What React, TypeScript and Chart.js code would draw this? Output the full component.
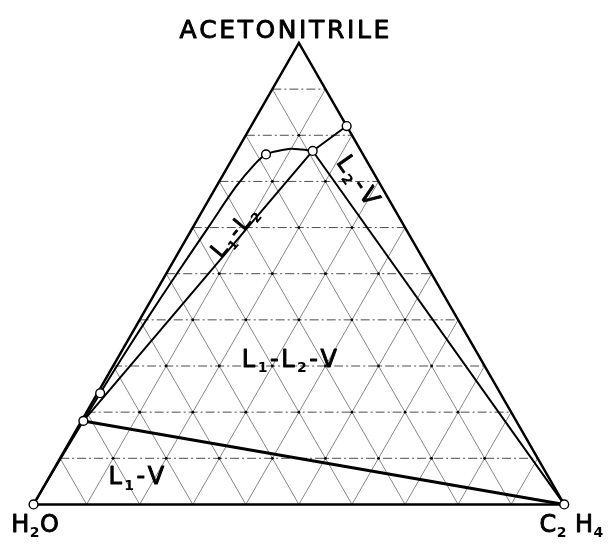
import { useEffect, useRef } from "react";
import { Chart, registerables } from "chart.js";

Chart.register(...registerables);

// Compositions are given as mole fractions: [acetonitrile, ethylene]; water is the remainder.
const GRID_STEPS = [0.1, 0.2, 0.3, 0.4, 0.5, 0.6, 0.7, 0.8, 0.9];

// L1 (water-rich) branch of the two-liquid envelope, from pure water up and over to L2
const BINODAL_ACN = [0, 0.1, 0.181, 0.241, 0.32, 0.4, 0.5, 0.6, 0.688, 0.737, 0.7585, 0.766, 0.771, 0.769, 0.766];
const BINODAL_C2H4 = [0, 0.0015, 0.0034, 0.005, 0.008, 0.0126, 0.02, 0.029, 0.037, 0.048, 0.0588, 0.077, 0.099, 0.121, 0.143];

// L2 saturation line from the L2 corner to the acetonitrile–ethylene side
const L2_BRANCH_ACN = [0.766, 0.82];
const L2_BRANCH_C2H4 = [0.143, 0.18];

// Three-phase triangle corners: L1, L2, V
const THREE_PHASE_ACN = [0.181, 0.766, 0];
const THREE_PHASE_C2H4 = [0.0034, 0.143, 1];

// Measured points shown as open circles
const POINT_ACN = [0, 0, 0.82, 0.766, 0.7585, 0.241, 0.181];
const POINT_C2H4 = [0, 1, 0.18, 0.143, 0.0588, 0.005, 0.0034];

const COMPONENTS = ["ACETONITRILE", "H_2O", "C_2 H_4"];
const REGION_LABELS = ["L_1-L_2-V", "L_1-V", "L_1-L_2", "L_2-V"];

const SQ = Math.sqrt(3) / 2;
const toXY = (a: number, c: number) => ({ x: c + a / 2, y: a * SQ });
const GAP = { x: NaN, y: NaN };

const X_MIN = -28.3 / 541;
const X_MAX = (608 - 28.3) / 541;
const Y_UNIT = 471.5 / SQ;
const Y_MIN = -(544 - 509.5) / Y_UNIT;
const Y_MAX = 509.5 / Y_UNIT;

function segments(pairs: [number, number, number, number][]) {
  const pts: { x: number; y: number }[] = [];
  pairs.forEach(([a1, c1, a2, c2]) => {
    pts.push(toXY(a1, c1), toXY(a2, c2), GAP);
  });
  return pts;
}

function zipPts(acn: number[], c2h4: number[]) {
  return acn.map((a, i) => toXY(a, c2h4[i]));
}

type Part = { t: string; sub: boolean };
function parse(s: string): Part[] {
  const parts: Part[] = [];
  for (let i = 0; i < s.length; i++) {
    if (s[i] === "_" && i + 1 < s.length) {
      parts.push({ t: s[i + 1], sub: true });
      i++;
    } else parts.push({ t: s[i], sub: false });
  }
  return parts;
}

// Draws text with "_x" subscripts, centred on (cx, cy), optionally rotated.
function drawRich(
  ctx: CanvasRenderingContext2D,
  text: string,
  cx: number,
  cy: number,
  size: number,
  spacing: number,
  angle = 0
) {
  const parts = parse(text);
  const family = '"DejaVu Sans", sans-serif';
  const fontOf = (p: Part) => (p.sub ? `bold ${Math.round(size * 0.6)}px ${family}` : `${size}px ${family}`);
  const widths = parts.map((p) => {
    ctx.font = fontOf(p);
    return ctx.measureText(p.t).width;
  });
  const total = widths.reduce((s, w) => s + w, 0) + spacing * (parts.length - 1);
  ctx.save();
  ctx.translate(cx, cy);
  ctx.rotate((angle * Math.PI) / 180);
  ctx.fillStyle = "#000";
  ctx.strokeStyle = "#000";
  ctx.lineWidth = 0.9;
  ctx.lineJoin = "round";
  ctx.textBaseline = "alphabetic";
  ctx.textAlign = "left";
  const base = size * 0.365;
  let x = -total / 2;
  parts.forEach((p, i) => {
    ctx.font = fontOf(p);
    const y = p.sub ? base + size * 0.22 : base;
    ctx.fillText(p.t, x, y);
    if (!p.sub) ctx.strokeText(p.t, x, y);
    x += widths[i] + spacing;
  });
  ctx.restore();
}

const labelPlugin = {
  id: "ternaryLabels",
  afterDatasetsDraw(chart: Chart) {
    const ctx = chart.ctx;
    const sx = chart.scales.x;
    const sy = chart.scales.y;
    const px = (x: number) => sx.getPixelForValue(x);
    const py = (y: number) => sy.getPixelForValue(y);
    // component names at the corners
    drawRich(ctx, COMPONENTS[0], px(0.4726), py(0.892), 25, 2.6);
    drawRich(ctx, COMPONENTS[1], px(0.003), py(-0.0345), 24, 0.5);
    drawRich(ctx, COMPONENTS[2], px(1.0135), py(-0.0345), 24, 0.5);
    // phase regions
    drawRich(ctx, REGION_LABELS[0], px(0.482), py(0.2746), 24, 2.5);
    drawRich(ctx, REGION_LABELS[1], px(0.1935), py(0.0542), 24, 2.5);
    drawRich(ctx, REGION_LABELS[2], px(0.3772), py(0.5128), 22, 2.2, -50);
    drawRich(ctx, REGION_LABELS[3], px(0.6131), py(0.609), 24, 2.5, 55);
  },
};

export default function App() {
  const ref = useRef<HTMLCanvasElement | null>(null);

  useEffect(() => {
    if (!ref.current) return;

    const horiz = segments(GRID_STEPS.map((a) => [a, 0, a, 1 - a] as [number, number, number, number]));
    const diag = segments([
      ...GRID_STEPS.map((c) => [0, c, 1 - c, c] as [number, number, number, number]),
      ...GRID_STEPS.map((w) => [0, 1 - w, 1 - w, 0] as [number, number, number, number]),
    ]);
    const dots: { x: number; y: number }[] = [];
    GRID_STEPS.forEach((a) =>
      GRID_STEPS.forEach((c) => {
        if (a + c < 0.999) dots.push(toXY(a, c));
      })
    );
    const frame = [toXY(0, 0), toXY(0, 1), toXY(1, 0), toXY(0, 0)];
    const tri = zipPts(THREE_PHASE_ACN, THREE_PHASE_C2H4);

    const line = (data: { x: number; y: number }[], width: number, order: number, extra = {}) => ({
      data,
      showLine: true,
      borderColor: "#000",
      borderWidth: width,
      pointRadius: 0,
      fill: false,
      spanGaps: false,
      order,
      ...extra,
    });

    const chart = new Chart(ref.current, {
      type: "scatter",
      data: {
        datasets: [
          {
            data: zipPts(POINT_ACN, POINT_C2H4),
            showLine: false,
            pointRadius: 4.4,
            pointBackgroundColor: "#fff",
            pointBorderColor: "#000",
            pointBorderWidth: 1.4,
            order: 0,
          },
          line(zipPts(BINODAL_ACN, BINODAL_C2H4), 2, 1, { tension: 0.35 }),
          line(zipPts(L2_BRANCH_ACN, L2_BRANCH_C2H4), 2, 1),
          line([tri[0], tri[1]], 2, 1),
          line([tri[1], tri[2]], 2, 1),
          line([tri[0], tri[2]], 3, 1),
          line(frame, 2.5, 2, { borderJoinStyle: "miter" }),
          {
            data: dots,
            showLine: false,
            pointRadius: 1.4,
            pointBackgroundColor: "#000",
            pointBorderWidth: 0,
            order: 3,
          },
          line(horiz, 1, 4, { borderDash: [9, 3, 2, 3], borderColor: "rgba(0,0,0,0.7)" }),
          line(diag, 0.8, 5, { borderColor: "rgba(0,0,0,0.6)" }),
        ],
      },
      options: {
        animation: false,
        responsive: false,
        events: [],
        layout: { padding: 0 },
        scales: {
          x: { type: "linear", display: false, min: X_MIN, max: X_MAX },
          y: { type: "linear", display: false, min: Y_MIN, max: Y_MAX },
        },
        plugins: { legend: { display: false }, tooltip: { enabled: false } },
      },
      plugins: [labelPlugin],
    });
    return () => chart.destroy();
  }, []);

  return (
    <div style={{ position: "absolute", left: 0, top: 0, width: 608, height: 544, background: "#fff" }}>
      <canvas ref={ref} width={608} height={544} />
    </div>
  );
}
